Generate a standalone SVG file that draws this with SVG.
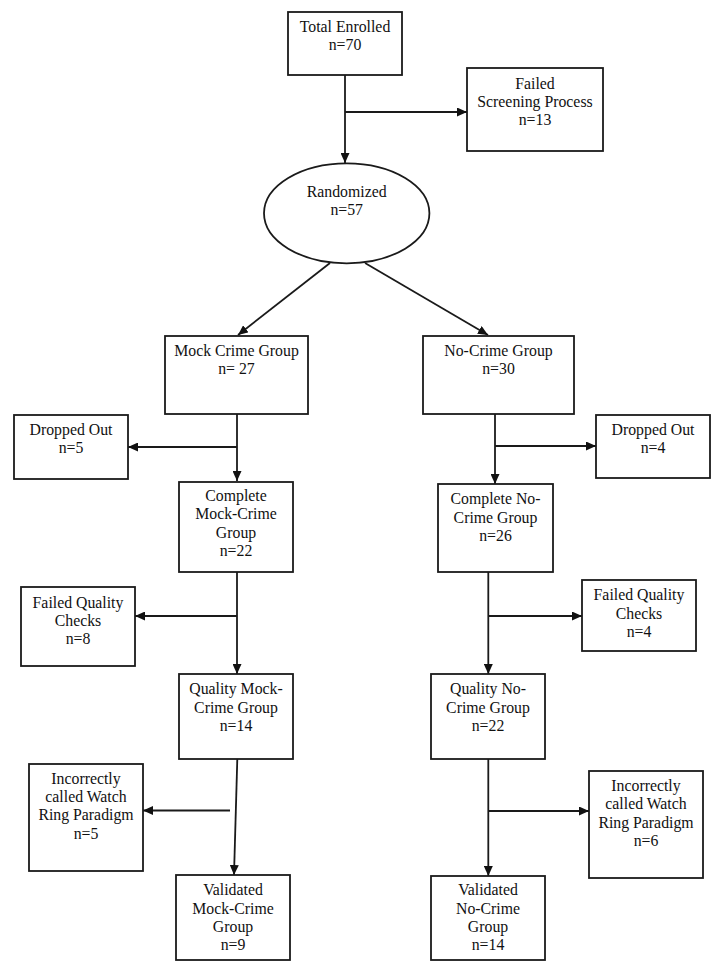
<svg xmlns="http://www.w3.org/2000/svg" width="727" height="968" viewBox="0 0 727 968">
<style>
.box{fill:#fff;stroke:#1a1a1a;stroke-width:1.8}
.lbl{font-family:"Liberation Serif","Times New Roman",serif;font-size:15.8px;fill:#111;text-anchor:middle}
.ln{fill:none;stroke:#1a1a1a;stroke-width:1.8}
.arr{marker-end:url(#ah)}
</style>
<defs>
<marker id="ah" markerUnits="userSpaceOnUse" markerWidth="11" markerHeight="9" refX="10" refY="4.5" orient="auto" viewBox="0 0 11 9">
<path d="M0,0 L10,4.5 L0,9 z" fill="#111"/>
</marker>
</defs>
<rect width="727" height="968" fill="#fff"/>
<g id="connectors">
<line class="ln arr" x1="345" y1="75" x2="345" y2="163"/>
<line class="ln arr" x1="345" y1="112" x2="467" y2="112"/>
<line class="ln arr" x1="330" y1="263" x2="238" y2="335"/>
<line class="ln arr" x1="365" y1="263" x2="488" y2="335"/>
<line class="ln arr" x1="237" y1="414" x2="237" y2="481"/>
<line class="ln arr" x1="237" y1="447" x2="128" y2="447"/>
<line class="ln arr" x1="237" y1="572" x2="237" y2="674"/>
<line class="ln arr" x1="237" y1="616" x2="135" y2="616"/>
<line class="ln arr" x1="237.3" y1="759" x2="234" y2="875"/>
<line class="ln arr" x1="230" y1="810.5" x2="143" y2="810.5"/>
<line class="ln arr" x1="495" y1="414" x2="495" y2="484"/>
<line class="ln arr" x1="495" y1="446" x2="596" y2="446"/>
<line class="ln arr" x1="488.3" y1="572" x2="488.3" y2="674"/>
<line class="ln arr" x1="488.3" y1="616" x2="582" y2="616"/>
<line class="ln arr" x1="488.3" y1="759" x2="488.3" y2="876"/>
<line class="ln arr" x1="488.3" y1="811" x2="589" y2="811"/>
</g>
<g id="total">
<rect class="box" x="288" y="12" width="114" height="63"/>
<text class="lbl" x="345" y="32">Total Enrolled</text>
<text class="lbl" x="345" y="50">n=70</text>
</g>
<g id="failedScreening">
<rect class="box" x="467" y="68" width="136" height="83"/>
<text class="lbl" x="535" y="89">Failed</text>
<text class="lbl" x="535" y="107">Screening Process</text>
<text class="lbl" x="535" y="125">n=13</text>
</g>
<g id="randomized">
<ellipse class="box" cx="346.7" cy="213.3" rx="82.7" ry="50"/>
<text class="lbl" x="346.7" y="197">Randomized</text>
<text class="lbl" x="346.7" y="215">n=57</text>
</g>
<g id="mock">
<rect class="box" x="165" y="336" width="143" height="78"/>
<text class="lbl" x="236.5" y="356">Mock Crime Group</text>
<text class="lbl" x="236.5" y="374">n= 27</text>
</g>
<g id="nocrime">
<rect class="box" x="423" y="336" width="151" height="78"/>
<text class="lbl" x="498.5" y="356">No-Crime Group</text>
<text class="lbl" x="498.5" y="374">n=30</text>
</g>
<g id="droppedLeft">
<rect class="box" x="14" y="415" width="114" height="64"/>
<text class="lbl" x="71" y="435">Dropped Out</text>
<text class="lbl" x="71" y="453">n=5</text>
</g>
<g id="droppedRight">
<rect class="box" x="596" y="415" width="114" height="63"/>
<text class="lbl" x="653" y="435">Dropped Out</text>
<text class="lbl" x="653" y="453">n=4</text>
</g>
<g id="completeMock">
<rect class="box" x="179" y="482" width="114" height="90"/>
<text class="lbl" x="236" y="501">Complete</text>
<text class="lbl" x="236" y="519">Mock-Crime</text>
<text class="lbl" x="236" y="537.5">Group</text>
<text class="lbl" x="236" y="556">n=22</text>
</g>
<g id="completeNo">
<rect class="box" x="438" y="484" width="115" height="88"/>
<text class="lbl" x="495.5" y="504">Complete No-</text>
<text class="lbl" x="495.5" y="522.5">Crime Group</text>
<text class="lbl" x="495.5" y="541">n=26</text>
</g>
<g id="fqcLeft">
<rect class="box" x="21" y="587" width="114" height="79"/>
<text class="lbl" x="78" y="607.5">Failed Quality</text>
<text class="lbl" x="78" y="626">Checks</text>
<text class="lbl" x="78" y="644">n=8</text>
</g>
<g id="fqcRight">
<rect class="box" x="582" y="580" width="114" height="71"/>
<text class="lbl" x="639" y="600">Failed Quality</text>
<text class="lbl" x="639" y="618.5">Checks</text>
<text class="lbl" x="639" y="637">n=4</text>
</g>
<g id="qualityMock">
<rect class="box" x="179" y="674" width="114" height="85"/>
<text class="lbl" x="236" y="694">Quality Mock-</text>
<text class="lbl" x="236" y="712.5">Crime Group</text>
<text class="lbl" x="236" y="731">n=14</text>
</g>
<g id="qualityNo">
<rect class="box" x="431" y="674" width="114" height="85"/>
<text class="lbl" x="488" y="694">Quality No-</text>
<text class="lbl" x="488" y="712.5">Crime Group</text>
<text class="lbl" x="488" y="731">n=22</text>
</g>
<g id="incorrectLeft">
<rect class="box" x="29" y="764" width="114" height="107"/>
<text class="lbl" x="86" y="783.5">Incorrectly</text>
<text class="lbl" x="86" y="802">called Watch</text>
<text class="lbl" x="86" y="820">Ring Paradigm</text>
<text class="lbl" x="86" y="838.5">n=5</text>
</g>
<g id="incorrectRight">
<rect class="box" x="589" y="771" width="114" height="107"/>
<text class="lbl" x="646" y="791">Incorrectly</text>
<text class="lbl" x="646" y="809">called Watch</text>
<text class="lbl" x="646" y="827.5">Ring Paradigm</text>
<text class="lbl" x="646" y="846">n=6</text>
</g>
<g id="validatedMock">
<rect class="box" x="176" y="875" width="114" height="85"/>
<text class="lbl" x="233" y="895">Validated</text>
<text class="lbl" x="233" y="913.5">Mock-Crime</text>
<text class="lbl" x="233" y="932">Group</text>
<text class="lbl" x="233" y="950">n=9</text>
</g>
<g id="validatedNo">
<rect class="box" x="431" y="876" width="114" height="84"/>
<text class="lbl" x="488" y="895">Validated</text>
<text class="lbl" x="488" y="913.5">No-Crime</text>
<text class="lbl" x="488" y="932">Group</text>
<text class="lbl" x="488" y="950">n=14</text>
</g>
</svg>
